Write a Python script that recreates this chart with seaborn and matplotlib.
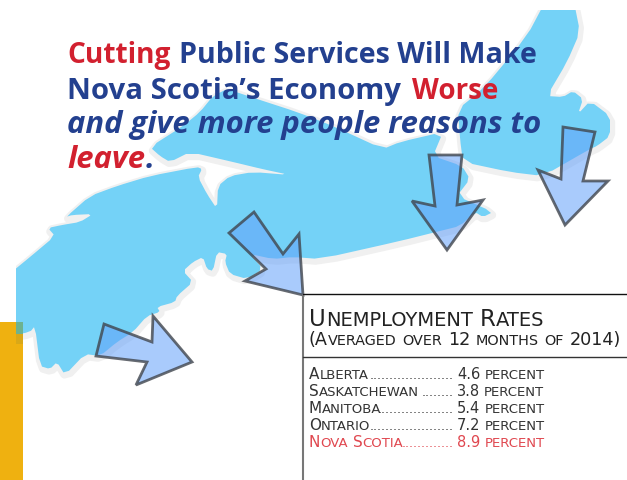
import matplotlib
matplotlib.use("Agg")
import matplotlib.pyplot as plt
from matplotlib.patches import Polygon, Rectangle
import seaborn as sns

# table values
provinces = ["Alberta", "Saskatchewan", "Manitoba", "Ontario", "Nova Scotia"]
leaders = [".....................", "........", "...................", ".....................", "............."]
rates = [4.6, 3.8, 5.4, 7.2, 8.9]

# headline, one list of (text, colour, italic, size, x) per line
RED = "#D2202F"
NAVY = "#23408F"
headline = [
    [("Cutting", RED, False, 20.2, 67), ("Public Services Will Make", NAVY, False, 20.6, 179)],
    [("Nova Scotia\u2019s Economy", NAVY, False, 21.2, 67), ("Worse", RED, False, 20, 412)],
    [("and give more people reasons to", NAVY, True, 22.3, 67)],
    [("leave", RED, True, 22.3, 67), (".", NAVY, True, 22.3, 146)],
]

# map outline in picture pixels
mainland = [(8, 276), (30, 258), (55, 237), (48, 229), (62, 226), (80, 223), (93, 215), (72, 216), (66, 218),
            (90, 197), (117, 187), (150, 177), (197, 168), (202, 170), (198, 178), (207, 195),
            (217, 210), (218, 187), (230, 177), (253, 173), (290, 176), (262, 170), (233, 163),
            (190, 153), (170, 163), (160, 157), (150, 148), (183, 127), (200, 113), (213, 97),
            (227, 90), (257, 100), (297, 113), (333, 127), (383, 150), (400, 143), (443, 133),
            (433, 157), (462, 167), (470, 180), (457, 197), (493, 213), (483, 218), (475, 213),
            (460, 227), (440, 232), (400, 242), (320, 260), (293, 258), (273, 260), (250, 255),
            (263, 270), (247, 280), (230, 275), (225, 263), (227, 255), (217, 253), (213, 272),
            (207, 270), (203, 258), (193, 263), (183, 272), (193, 283), (177, 297), (175, 303),
            (157, 308), (160, 313), (147, 317), (133, 333), (117, 343), (100, 357), (85, 355),
            (65, 376), (57, 363), (50, 370), (40, 367), (35, 327), (30, 333), (8, 337)]
cape_breton = [(545, 3), (574, 3), (580, 33), (567, 63), (547, 97), (563, 98), (573, 92), (583, 100),
               (578, 115), (590, 102), (610, 117), (610, 137), (597, 147), (590, 150), (543, 177),
               (510, 173), (463, 163), (460, 140), (458, 110), (483, 90), (527, 37)]

arrows = [
    [(104, 325), (152, 343), (153, 317), (192, 363), (136, 386), (147, 363), (96, 357)],
    [(254, 213), (283, 255), (299, 235), (303, 296), (245, 282), (266, 270), (229, 234)],
    [(429, 156), (462, 156), (457, 206), (483, 201), (447, 251), (412, 202), (435, 207)],
    [(563, 128), (595, 133), (583, 182), (608, 182), (565, 226), (538, 171), (561, 180)],
]

sns.set_theme(style="white")
plt.rcParams['font.family'] = ['DejaVu Sans']

fig = plt.figure(figsize=(6.27, 4.81), dpi=100)
ax = fig.add_axes([0, 0, 1, 1])
ax.set_xlim(0, 627)
ax.set_ylim(481, 0)
ax.axis("off")


def soften(points):
    # one pass of corner cutting so the coast doesn't look like straight segments
    out = []
    for i, (x0, y0) in enumerate(points):
        x1, y1 = points[(i + 1) % len(points)]
        out.append((0.8 * x0 + 0.2 * x1, 0.8 * y0 + 0.2 * y1))
        out.append((0.2 * x0 + 0.8 * x1, 0.2 * y0 + 0.8 * y1))
    return out


ax.add_patch(Rectangle((0, 323), 23, 158, color="#EFB110", lw=0))

clip = Rectangle((16, 11), 611, 470, transform=ax.transData)
for shape in (mainland, cape_breton):
    halo = Polygon([(x + 1, y + 2) for x, y in soften(shape)], closed=True, fc="#F0F0F0", ec="#F0F0F0", lw=6, joinstyle="round")
    ax.add_patch(halo)
    halo.set_clip_path(clip)
for shape in (mainland, cape_breton):
    land = Polygon(soften(shape), closed=True, fc="#74D2F7", ec="none")
    ax.add_patch(land)
    land.set_clip_path(clip)
ax.add_patch(Rectangle((16, 323), 7, 12, color="#6DB28F", lw=0))
ax.add_patch(Rectangle((16, 335), 7, 10, color="#D9A818", lw=0))

for arrow in arrows:
    ax.add_patch(Polygon(arrow, closed=True, fc=(0.39, 0.63, 0.98, 0.55), ec=(0.25, 0.27, 0.3, 0.8), lw=2, joinstyle="miter"))

# table rules
ax.plot([303, 303], [296, 481], color="#777777", lw=1.5)
ax.plot([303, 627], [295, 295], color="#111111", lw=1)
ax.plot([303, 627], [358, 358], color="#333333", lw=1)

renderer = fig.canvas.get_renderer()


def put_run(x, y, text, **kw):
    t = ax.text(x, y, text, ha="left", va="baseline", **kw)
    return x + t.get_window_extent(renderer).width


def small_caps(x, y, text, big, small, color):
    # runs of capitals at the big size, everything else capitalised at the small size
    i = 0
    while i < len(text):
        j = i
        is_big = not text[i].islower()
        while j < len(text) and (not text[j].islower()) == is_big:
            j += 1
        run = text[i:j]
        stripped = run.lstrip(" ")
        x += (len(run) - len(stripped)) * big * 0.45
        tail = stripped.rstrip(" ")
        if tail:
            x = put_run(x, y, tail.upper(), fontsize=big if is_big else small, color=color)
        x += (len(stripped) - len(tail)) * big * 0.45
        i = j
    return x


# headline
baselines = [63, 99, 133, 168]
for base, line in zip(baselines, headline):
    for text, color, italic, size, x in line:
        ax.text(x, base, text, ha="left", va="baseline", fontsize=size, fontweight="bold", color=color,
                style="italic" if italic else "normal", family="Open Sans")

small_caps(309, 326, "Unemployment Rates", 16.5, 14, "#222222")
small_caps(309, 345, "(Averaged over 12 months of 2014)", 12.7, 10.4, "#222222")

row_y = [379, 395.7, 412.7, 429.7, 446.7]
for name, lead, rate, y in zip(provinces, leaders, rates, row_y):
    color = "#E0474F" if name == "Nova Scotia" else "#333333"
    small_caps(309, y, name, 11, 9.5, color)
    ax.text(454, y, lead, ha="right", va="baseline", fontsize=9, color=color)
    x = put_run(457, y, f"{rate}", fontsize=10.5, color=color)
    put_run(x + 4, y, "PERCENT", fontsize=9.5, color=color)

fig.savefig("out.png", dpi=100)
